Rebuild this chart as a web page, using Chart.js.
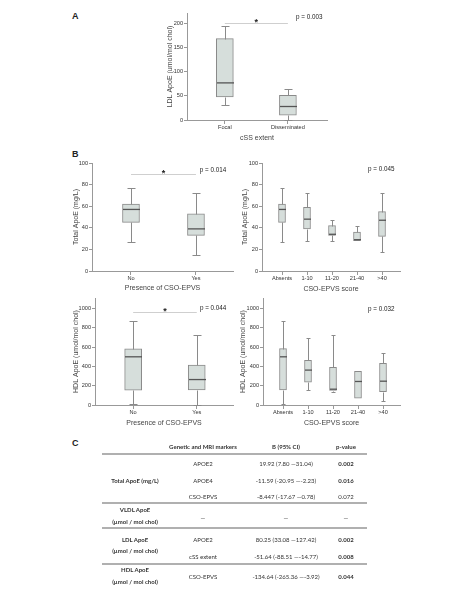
<!DOCTYPE html>
<html>
<head>
<meta charset="utf-8">
<script src="https://cdn.jsdelivr.net/npm/chart.js@4.4.1/dist/chart.umd.min.js"></script>
<style>
html, body { margin: 0; padding: 0; background: #fff; }
body { width: 474px; height: 589px; position: relative; overflow: hidden; font-family: "Liberation Sans", Arial, sans-serif; }
canvas { position: absolute; }
.panel { position: absolute; font-weight: bold; font-size: 9px; color: #222; }
.t { position: absolute; font-family: Lato, "Open Sans", sans-serif; font-size: 6px; color: #333; white-space: nowrap; transform: translate(-50%, -50%); }
.b { font-weight: bold; }
.rule { position: absolute; left: 102px; width: 265px; height: 1.5px; background: #b0b0b0; }
</style>
</head>
<body>
<div class="panel" style="left:72px;top:11px">A</div>
<div class="panel" style="left:72px;top:149px">B</div>
<div class="panel" style="left:72px;top:438px">C</div>

<canvas id="cA"></canvas>
<canvas id="cTL"></canvas>
<canvas id="cTR"></canvas>
<canvas id="cBL"></canvas>
<canvas id="cBR"></canvas>
<div id="table"></div>

<script>
// ---- data ----
const cssCats = ['Focal', 'Disseminated'];
const ldlMin = [31, 1];
const ldlQ1 = [48, 10];
const ldlMed = [77, 28];
const ldlQ3 = [169, 51];
const ldlMax = [194, 64];
const ldlTicks = [0, 50, 100, 150, 200];

const presCats = ['No', 'Yes'];
const scoreCats = ['Absents', '1-10', '11-20', '21-40', '>40'];

const totPresMin = [27, 15];
const totPresQ1 = [45, 33];
const totPresMed = [57, 39];
const totPresQ3 = [62, 53];
const totPresMax = [77, 72.5];

const totScoreMin = [27, 28, 28, 28, 18];
const totScoreQ1 = [45, 39, 33, 28, 32];
const totScoreMed = [57, 48, 34, 29, 47];
const totScoreQ3 = [62, 59, 42, 36, 55];
const totScoreMax = [77, 72, 47, 42, 72];
const totTicks = [0, 20, 40, 60, 80, 100];

const hdlPresMin = [10, 0];
const hdlPresQ1 = [153, 156];
const hdlPresMed = [500, 264];
const hdlPresQ3 = [583, 413];
const hdlPresMax = [870, 722];

const hdlScoreMin = [14, 153, 139, 70, 45];
const hdlScoreQ1 = [157, 237, 150, 70, 139];
const hdlScoreMed = [500, 362, 164, 244, 247];
const hdlScoreQ3 = [585, 463, 390, 348, 432];
const hdlScoreMax = [870, 693, 728, 348, 537];
const hdlTicks = [0, 200, 400, 600, 800, 1000];

// table
const tabHeader = ['Genetic and MRI markers', 'B (95% CI)', 'p-value'];
const tabMarkers = ['APOE2', 'APOE4', 'CSO-EPVS', '—', 'APOE2', 'cSS extent', 'CSO-EPVS'];
const tabB = ['19.92 (7.80 —31.04)', '-11.59 (-20.95 —-2.23)', '-8.447 (-17.67 —0.78)', '—',
  '80.25 (33.08 —127.42)', '-51.64 (-88.51 —-14.77)', '-134.64 (-265.36 —-3.92)'];
const tabP = ['0.002', '0.016', '0.072', '—', '0.002', '0.008', '0.044'];
const tabPBold = [true, true, false, false, true, true, true];

// ---- box plot helper ----
const boxAnno = {
  id: 'boxAnno',
  afterDatasetsDraw(chart, args, o) {
    const { ctx, scales: { x, y } } = chart;
    ctx.save();
    for (let i = 0; i < o.med.length; i++) {
      const cx = Math.round(x.getPixelForValue(i + 1)) + 0.5;
      const h = o.barW / 2;
      const cap = o.cap / 2;
      const px = v => Math.round(y.getPixelForValue(v)) + 0.5;
      ctx.strokeStyle = '#8a8a8a';
      ctx.lineWidth = 1;
      ctx.beginPath();
      if (o.max[i] > o.q3[i]) {
        ctx.moveTo(cx, px(o.q3[i])); ctx.lineTo(cx, px(o.max[i]));
        ctx.moveTo(cx - cap, px(o.max[i])); ctx.lineTo(cx + cap, px(o.max[i]));
      }
      if (o.min[i] < o.q1[i]) {
        ctx.moveTo(cx, px(o.q1[i])); ctx.lineTo(cx, px(o.min[i]));
        ctx.moveTo(cx - cap, px(o.min[i])); ctx.lineTo(cx + cap, px(o.min[i]));
      }
      ctx.stroke();
      ctx.strokeStyle = '#555';
      ctx.lineWidth = 1.3;
      ctx.beginPath();
      ctx.moveTo(cx - h, y.getPixelForValue(o.med[i]));
      ctx.lineTo(cx + h, y.getPixelForValue(o.med[i]));
      ctx.stroke();
    }
    // significance bar and p value
    if (o.sig) {
      const ly = Math.round(y.getPixelForValue(o.sig.y)) + 0.5;
      ctx.strokeStyle = '#cfcfcf';
      ctx.lineWidth = 1;
      ctx.beginPath();
      ctx.moveTo(x.getPixelForValue(o.sig.x1), ly);
      ctx.lineTo(x.getPixelForValue(o.sig.x2), ly);
      ctx.stroke();
      ctx.fillStyle = '#222';
      ctx.font = 'bold 9px "Liberation Sans"';
      ctx.textAlign = 'center';
      ctx.textBaseline = 'alphabetic';
      ctx.fillText('*', x.getPixelForValue((o.sig.x1 + o.sig.x2) / 2), ly + 1);
    }
    ctx.fillStyle = '#222';
    ctx.font = '6.3px "Liberation Sans"';
    ctx.textAlign = 'left';
    ctx.textBaseline = 'middle';
    ctx.fillText(o.p.text, x.getPixelForValue(o.p.x), y.getPixelForValue(o.p.y));
    ctx.restore();
  }
};

function boxChart(id, s) {
  const cv = document.getElementById(id);
  const a = s.area;
  const left = Math.round(s.yTitleX - 4.2);
  const top = a.t - 10;
  const right = a.r + 6;
  const bottom = Math.round(s.xTitleY + 4.2);
  cv.style.left = left + 'px';
  cv.style.top = top + 'px';
  cv.width = right - left;
  cv.height = bottom - top;
  cv.style.width = (right - left) + 'px';
  cv.style.height = (bottom - top) + 'px';

  new Chart(cv, {
    type: 'bar',
    data: {
      datasets: [{
        data: s.cats.map((c, i) => ({ x: i + 1, y: [s.q1[i], s.q3[i]] })),
        backgroundColor: '#d6dedb',
        borderColor: '#8a8a8a',
        borderWidth: 1,
        borderSkipped: false,
        barThickness: s.barW
      }]
    },
    options: {
      responsive: false,
      animation: false,
      events: [],
      layout: { padding: { top: 10, right: 6, left: 0, bottom: 0 } },
      plugins: {
        legend: { display: false },
        tooltip: { enabled: false },
        boxAnno: { min: s.min, q1: s.q1, med: s.med, q3: s.q3, max: s.max, barW: s.barW, cap: s.cap, sig: s.sig, p: s.p }
      },
      scales: {
        x: {
          type: 'linear', min: s.xMin, max: s.xMax, offset: false,
          afterFit: sc => { sc.height = bottom - a.b; },
          afterBuildTicks: sc => { sc.ticks = s.cats.map((c, i) => ({ value: i + 1 })); },
          ticks: { autoSkip: false, maxRotation: 0, padding: 0, color: '#333',
            font: { family: 'Liberation Sans', size: 5.6 },
            callback: v => s.cats[Math.round(v) - 1] },
          grid: { display: true, drawOnChartArea: false, offset: false, tickLength: 4, color: '#999' },
          border: { display: true, color: '#999' },
          title: { display: true, text: s.xTitle, padding: 0, color: '#444',
            font: { family: 'Liberation Sans', size: 7 } }
        },
        y: {
          min: 0, max: s.yMax,
          afterFit: sc => { sc.width = a.l - left; },
          afterBuildTicks: sc => { sc.ticks = s.yTicks.map(v => ({ value: v })); },
          ticks: { padding: 1, color: '#333', font: { family: 'Liberation Sans', size: 5.6 },
            callback: v => String(v) },
          grid: { display: true, drawOnChartArea: false, tickLength: 3, color: '#999' },
          border: { display: true, color: '#999' },
          title: { display: true, text: s.yTitle, padding: 0, color: '#444',
            font: { family: 'Liberation Sans', size: 7 } }
        }
      }
    },
    plugins: [boxAnno]
  });
}

boxChart('cA', {
  cats: cssCats, min: ldlMin, q1: ldlQ1, med: ldlMed, q3: ldlQ3, max: ldlMax, yTicks: ldlTicks,
  area: { l: 187, t: 13, r: 327, b: 120 }, yTitleX: 170, xTitleY: 138,
  xMin: 0.4, xMax: 2.62, yMax: 222, barW: 17, cap: 8,
  xTitle: 'cSS extent', yTitle: 'LDL ApoE (umol/mol chol)',
  sig: { x1: 1, x2: 2, y: 202 }, p: { text: 'p = 0.003', x: 2.13, y: 214 }
});
boxChart('cTL', {
  cats: presCats, min: totPresMin, q1: totPresQ1, med: totPresMed, q3: totPresQ3, max: totPresMax, yTicks: totTicks,
  area: { l: 92, t: 163, r: 233, b: 271 }, yTitleX: 76, xTitleY: 288,
  xMin: 0.4, xMax: 2.57, yMax: 100, barW: 17, cap: 8,
  xTitle: 'Presence of CSO-EPVS', yTitle: 'Total ApoE (mg/L)',
  sig: { x1: 1, x2: 2, y: 90 }, p: { text: 'p = 0.014', x: 2.06, y: 93.5 }
});
boxChart('cTR', {
  cats: scoreCats, min: totScoreMin, q1: totScoreQ1, med: totScoreMed, q3: totScoreQ3, max: totScoreMax, yTicks: totTicks,
  area: { l: 262, t: 163, r: 400, b: 271 }, yTitleX: 245, xTitleY: 289,
  xMin: 0.2, xMax: 5.72, yMax: 100, barW: 7, cap: 4,
  xTitle: 'CSO-EPVS score', yTitle: 'Total ApoE (mg/L)',
  sig: null, p: { text: 'p = 0.045', x: 4.44, y: 94.4 }
});
boxChart('cBL', {
  cats: presCats, min: hdlPresMin, q1: hdlPresQ1, med: hdlPresMed, q3: hdlPresQ3, max: hdlPresMax, yTicks: hdlTicks,
  area: { l: 95, t: 298, r: 233, b: 405 }, yTitleX: 76, xTitleY: 423,
  xMin: 0.4, xMax: 2.57, yMax: 1110, barW: 17, cap: 8,
  xTitle: 'Presence of CSO-EPVS', yTitle: 'HDL ApoE (umol/mol chol)',
  sig: { x1: 1, x2: 2, y: 969 }, p: { text: 'p = 0.044', x: 2.05, y: 1006 }
});
boxChart('cBR', {
  cats: scoreCats, min: hdlScoreMin, q1: hdlScoreQ1, med: hdlScoreMed, q3: hdlScoreQ3, max: hdlScoreMax, yTicks: hdlTicks,
  area: { l: 263, t: 298, r: 400, b: 405 }, yTitleX: 243, xTitleY: 423,
  xMin: 0.2, xMax: 5.68, yMax: 1110, barW: 7, cap: 4,
  xTitle: 'CSO-EPVS score', yTitle: 'HDL ApoE (umol/mol chol)',
  sig: null, p: { text: 'p = 0.032', x: 4.4, y: 996 }
});

// ---- table (panel C) ----
const tbl = document.getElementById('table');
function txt(s, x, y, bold) {
  const d = document.createElement('div');
  d.className = 't' + (bold ? ' b' : '');
  d.style.left = x + 'px';
  d.style.top = y + 'px';
  d.textContent = s;
  tbl.appendChild(d);
}
function rule(y) {
  const d = document.createElement('div');
  d.className = 'rule';
  d.style.top = y + 'px';
  tbl.appendChild(d);
}
const colX = [135, 203, 286, 346];
const rowY = [463, 480, 496, 517, 539, 556, 576];
txt(tabHeader[0], colX[1], 446, true);
txt(tabHeader[1], colX[2], 446, true);
txt(tabHeader[2], colX[3], 446, true);
rule(453);
tabMarkers.forEach((m, i) => {
  txt(m, colX[1], rowY[i], false);
  txt(tabB[i], colX[2], rowY[i], false);
  txt(tabP[i], colX[3], rowY[i], tabPBold[i]);
});
txt('Total ApoE (mg/L)', colX[0], 480, true);
rule(502);
txt('VLDL ApoE', colX[0], 509, true);
txt('(µmol / mol chol)', colX[0], 521, true);
rule(527);
txt('LDL ApoE', colX[0], 539, true);
txt('(µmol / mol chol)', colX[0], 550, true);
rule(563);
txt('HDL ApoE', colX[0], 569, true);
txt('(µmol / mol chol)', colX[0], 581, true);
</script>
</body>
</html>
